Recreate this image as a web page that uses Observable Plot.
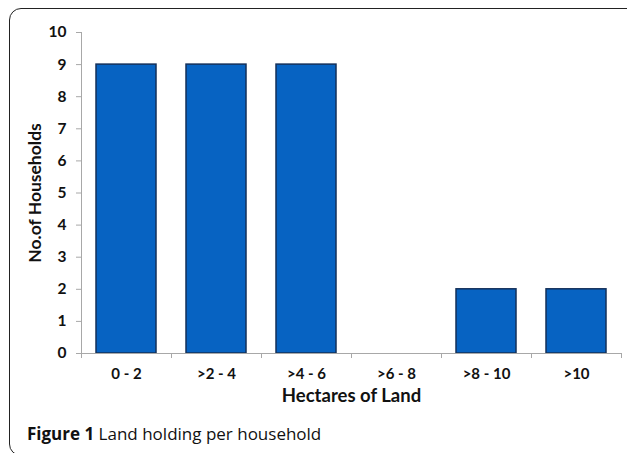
<!DOCTYPE html>
<html>
<head>
<meta charset="utf-8">
<script src="https://cdn.jsdelivr.net/npm/d3@7"></script>
<script src="https://cdn.jsdelivr.net/npm/@observablehq/plot@0.6"></script>
<style>
  html, body { margin: 0; padding: 0; background: #fff; overflow: hidden; }
  #page { position: relative; width: 627px; height: 453px; overflow: hidden; }
  #frame {
    position: absolute; left: 9px; top: 8px; width: 700px; height: 448px;
    border: 1.5px solid #222; border-radius: 12px; box-sizing: border-box;
  }
  #chart { position: absolute; left: 0; top: 0; }
  #caption {
    position: absolute; left: 27px; top: 422px;
    font-family: "Open Sans", sans-serif; font-size: 17px; color: #111;
    white-space: nowrap; line-height: normal;
  }
  #caption b { font-weight: 700; }
</style>
</head>
<body>
<div id="page">
  <div id="frame"></div>
  <div id="chart"></div>
  <div id="caption"><b>Figure 1</b> Land holding per household</div>
</div>
<script>
// Land size classes (hectares) and number of households in each class
const categories = ["0 - 2", ">2 - 4", ">4 - 6", ">6 - 8", ">8 - 10", ">10"];
const households = [9, 9, 9, 0, 2, 2];
const yTicks = [0, 1, 2, 3, 4, 5, 6, 7, 8, 9, 10];

const rows = categories.map((c, i) => ({class: c, count: households[i]}));

const W = 627, H = 420;
const mLeft = 81, mRight = 6, mTop = 32, mBottom = 67;
const halfStep = (W - mLeft - mRight) / categories.length / 2;

const axisGray = "#a8a8a8";
const font = "Lato, 'Open Sans', sans-serif";
const ink = "#111";

const chart = Plot.plot({
  width: W,
  height: H,
  marginLeft: mLeft,
  marginRight: mRight,
  marginTop: mTop,
  marginBottom: mBottom,
  style: {fontFamily: font, color: ink, background: "transparent"},
  x: {domain: categories, paddingInner: 1 / 3, paddingOuter: 1 / 6, label: null},
  y: {domain: [0, 10], label: null},
  marks: [
    Plot.barY(rows, {
      x: "class", y: "count",
      filter: d => d.count > 0,
      fill: "#0763c2", stroke: "#13305a", strokeWidth: 1.5
    }),
    // axis lines
    Plot.frame({anchor: "left", stroke: axisGray}),
    Plot.frame({anchor: "bottom", stroke: axisGray}),
    // y tick marks and labels
    Plot.axisY(yTicks, {tickSize: 5, tickFormat: () => "", stroke: axisGray, label: null}),
    Plot.text(yTicks, {
      y: d => d, frameAnchor: "left", textAnchor: "end", dx: -15,
      fontSize: 15.5, fontWeight: "bold", fill: ink
    }),
    // x tick labels at band centres
    Plot.text(categories, {
      x: d => d, frameAnchor: "bottom", dy: 25,
      fontSize: 15, fontWeight: "bold", fill: ink
    }),
    // x tick marks at band boundaries
    Plot.axisX({tickSize: 5, tickFormat: () => "", dx: -halfStep, stroke: axisGray, label: null}),
    Plot.axisX(categories.slice(-1), {tickSize: 5, tickFormat: () => "", dx: halfStep, stroke: axisGray, label: null}),
    // axis titles
    Plot.text(["Hectares of Land"], {
      frameAnchor: "bottom", dy: 48, fontSize: 18.5, fontWeight: "bold", fill: ink
    }),
    Plot.text(["No.of Households"], {
      frameAnchor: "left", textAnchor: "middle", dx: -46, rotate: -90,
      fontSize: 17.5, fontWeight: "bold", fill: ink
    })
  ]
});

document.getElementById("chart").appendChild(chart);
</script>
</body>
</html>
